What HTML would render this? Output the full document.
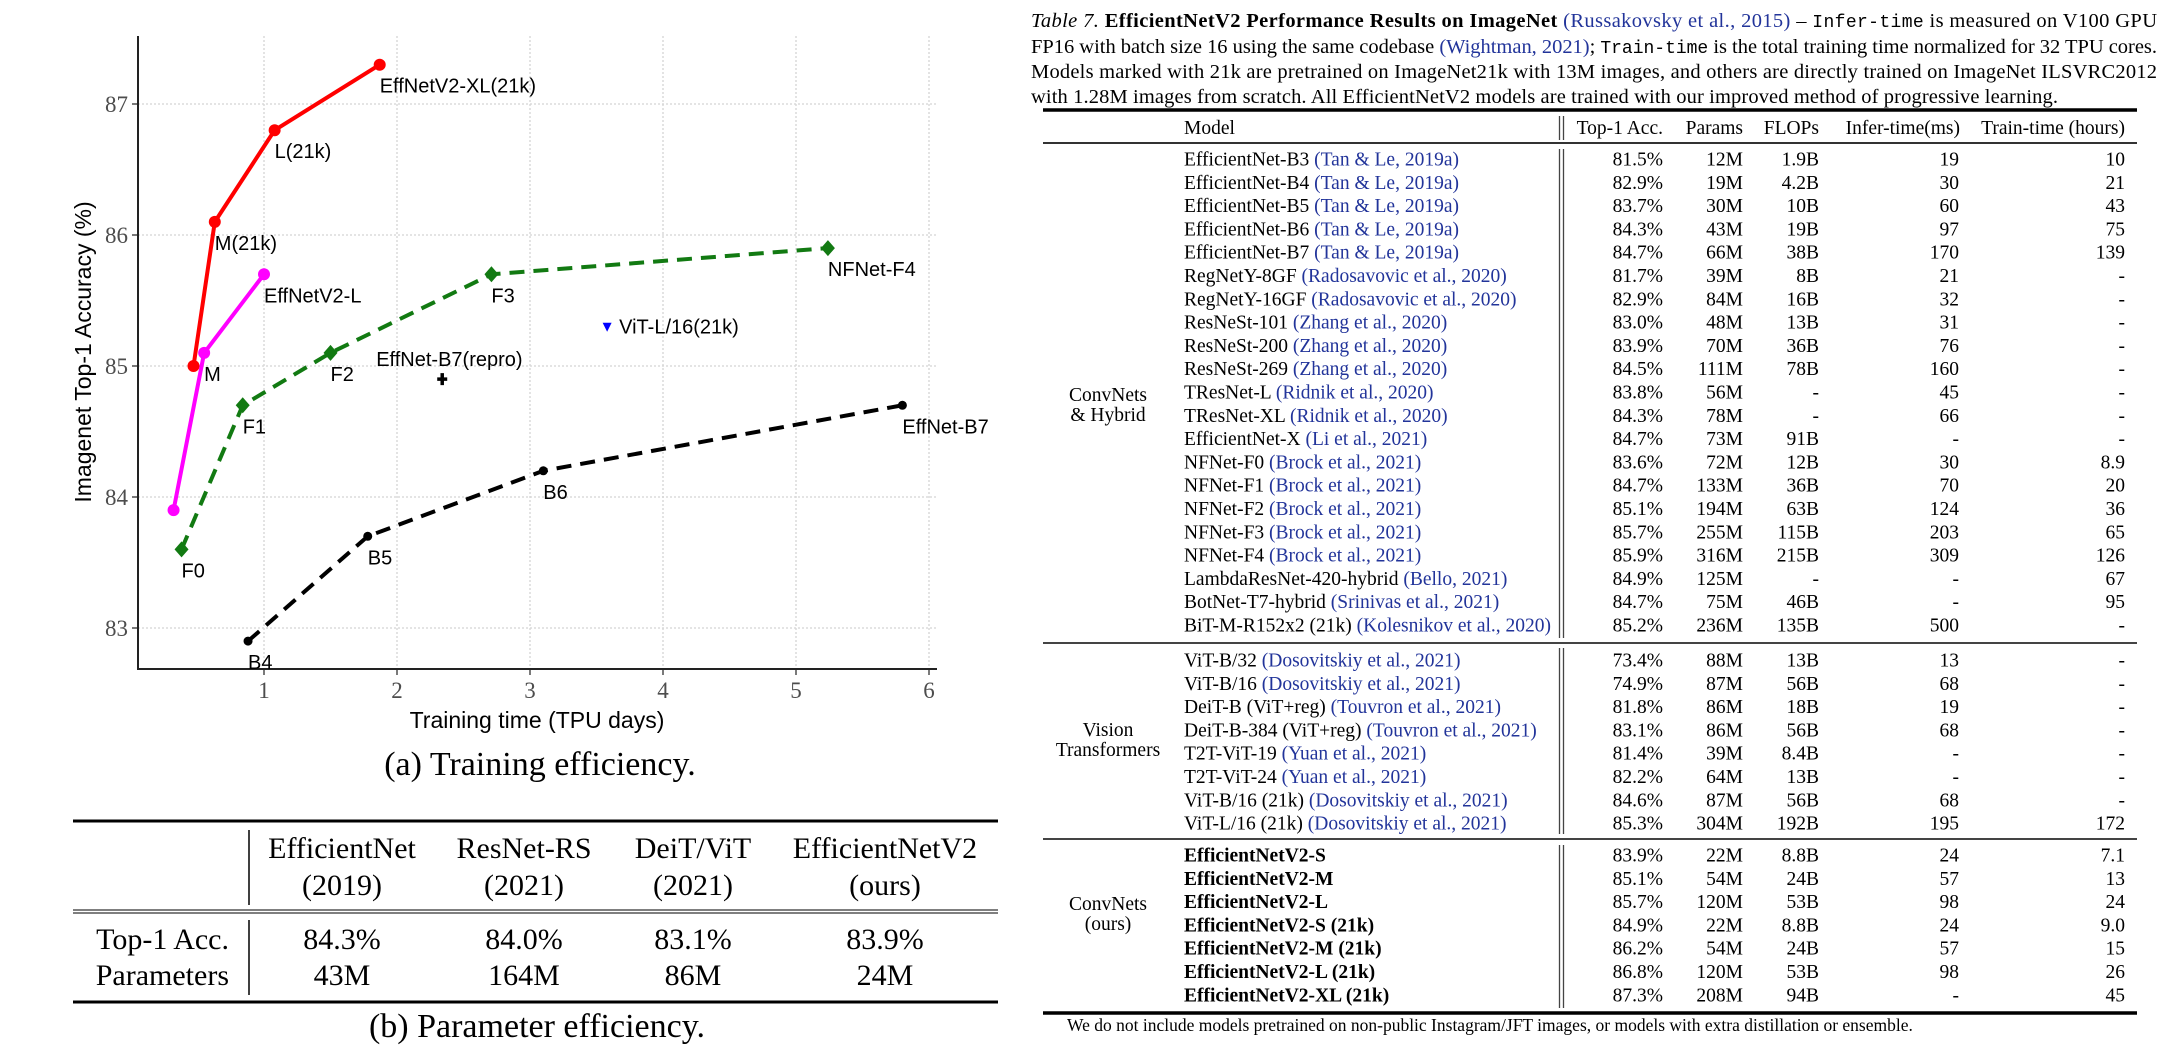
<!DOCTYPE html>
<html><head><meta charset="utf-8">
<style>
html,body{margin:0;padding:0;background:#fff;}
svg{display:block;}
.serif{font-family:"Liberation Serif",serif;}
.sans{font-family:"Liberation Sans",sans-serif;}
.mono{font-family:"Liberation Mono",monospace;}
.cite{fill:#22349a;}
</style></head>
<body>
<svg id="root" width="2174" height="1055" viewBox="0 0 2174 1055" xmlns="http://www.w3.org/2000/svg">
  <g id="chart"></g>
  <g id="ptable" class="serif">
    <line x1="73" y1="821" x2="998" y2="821" stroke="#000" stroke-width="3"/>
    <line x1="73" y1="910" x2="998" y2="910" stroke="#333" stroke-width="1.2"/>
    <line x1="73" y1="913" x2="998" y2="913" stroke="#333" stroke-width="1.2"/>
    <line x1="73" y1="1002" x2="998" y2="1002" stroke="#000" stroke-width="3"/>
    <line x1="249" y1="830" x2="249" y2="905" stroke="#000" stroke-width="1.5"/>
    <line x1="249" y1="920" x2="249" y2="995" stroke="#000" stroke-width="1.5"/>
    <g font-size="30" text-anchor="middle" fill="#000">
      <text x="342" y="858">EfficientNet</text>
      <text x="342" y="895">(2019)</text>
      <text x="524" y="858">ResNet-RS</text>
      <text x="524" y="895">(2021)</text>
      <text x="693" y="858">DeiT/ViT</text>
      <text x="693" y="895">(2021)</text>
      <text x="885" y="858">EfficientNetV2</text>
      <text x="885" y="895">(ours)</text>
      <text x="229" y="949" text-anchor="end">Top-1 Acc.</text>
      <text x="229" y="985" text-anchor="end">Parameters</text>
      <text x="342" y="949">84.3%</text>
      <text x="524" y="949">84.0%</text>
      <text x="693" y="949">83.1%</text>
      <text x="885" y="949">83.9%</text>
      <text x="342" y="985">43M</text>
      <text x="524" y="985">164M</text>
      <text x="693" y="985">86M</text>
      <text x="885" y="985">24M</text>
    </g>
    <text x="537" y="1037" font-size="34" text-anchor="middle">(b) Parameter efficiency.</text>
  </g>
  <g id="rtable" class="serif">
    <g font-size="20.5" fill="#000">
      <text x="1031" y="27" textLength="1126" lengthAdjust="spacing"><tspan font-style="italic">Table 7.</tspan><tspan font-weight="bold"> EfficientNetV2 Performance Results on ImageNet</tspan><tspan class="cite"> (Russakovsky et al., 2015)</tspan> – <tspan class="mono" font-size="18">Infer-time</tspan> is measured on V100 GPU</text>
      <text x="1031" y="53" textLength="1126" lengthAdjust="spacing">FP16 with batch size 16 using the same codebase <tspan class="cite">(Wightman, 2021)</tspan>; <tspan class="mono" font-size="18">Train-time</tspan> is the total training time normalized for 32 TPU cores.</text>
      <text x="1031" y="78" textLength="1126" lengthAdjust="spacing">Models marked with 21k are pretrained on ImageNet21k with 13M images, and others are directly trained on ImageNet ILSVRC2012</text>
      <text x="1031" y="103" textLength="1027" lengthAdjust="spacing">with 1.28M images from scratch. All EfficientNetV2 models are trained with our improved method of progressive learning.</text>
    </g>
    <line x1="1043" y1="110" x2="2137" y2="110" stroke="#000" stroke-width="3.5"/>
    <line x1="1043" y1="143" x2="2137" y2="143" stroke="#333" stroke-width="2"/>
    <line x1="1043" y1="643" x2="2137" y2="643" stroke="#444" stroke-width="2"/>
    <line x1="1043" y1="839" x2="2137" y2="839" stroke="#444" stroke-width="2"/>
    <line x1="1043" y1="1013" x2="2137" y2="1013" stroke="#000" stroke-width="3.5"/>
    <g stroke="#444" stroke-width="1.3">
      <line x1="1559.5" y1="116" x2="1559.5" y2="140"/><line x1="1563.5" y1="116" x2="1563.5" y2="140"/>
      <line x1="1559.5" y1="149" x2="1559.5" y2="638"/><line x1="1563.5" y1="149" x2="1563.5" y2="638"/>
      <line x1="1559.5" y1="648" x2="1559.5" y2="834"/><line x1="1563.5" y1="648" x2="1563.5" y2="834"/>
      <line x1="1559.5" y1="845" x2="1559.5" y2="1008"/><line x1="1563.5" y1="845" x2="1563.5" y2="1008"/>
    </g>
    <g font-size="19.5" fill="#000">
      <text x="1184" y="134">Model</text>
      <text x="1663" y="134" text-anchor="end">Top-1 Acc.</text>
      <text x="1743" y="134" text-anchor="end">Params</text>
      <text x="1819" y="134" text-anchor="end">FLOPs</text>
      <text x="1960" y="134" text-anchor="end">Infer-time(ms)</text>
      <text x="2125" y="134" text-anchor="end">Train-time (hours)</text>
    </g>
    <g font-size="19.5" text-anchor="middle" fill="#000">
      <text x="1108" y="401">ConvNets</text>
      <text x="1108" y="421">&amp; Hybrid</text>
      <text x="1108" y="736">Vision</text>
      <text x="1108" y="756">Transformers</text>
      <text x="1108" y="910">ConvNets</text>
      <text x="1108" y="930">(ours)</text>
    </g>
    <g id="rows" font-size="19.5" fill="#000"></g>
    <text x="1067" y="1031" font-size="17.5">We do not include models pretrained on non-public Instagram/JFT images, or models with extra distillation or ensemble.</text>
  </g>
</svg>
<script>
// ---------- chart data ----------
const xTicks = [1, 2, 3, 4, 5, 6];
const yTicks = [83, 84, 85, 86, 87];
const redX = [0.47, 0.63, 1.08, 1.87];
const redY = [85.0, 86.1, 86.8, 87.3];
const redLabels = ['', 'M(21k)', 'L(21k)', 'EffNetV2-XL(21k)'];
const magX = [0.32, 0.55, 1.0];
const magY = [83.9, 85.1, 85.7];
const magLabels = ['', 'M', 'EffNetV2-L'];
const greenX = [0.38, 0.84, 1.5, 2.71, 5.24];
const greenY = [83.6, 84.7, 85.1, 85.7, 85.9];
const greenLabels = ['F0', 'F1', 'F2', 'F3', 'NFNet-F4'];
const blackX = [0.88, 1.78, 3.1, 5.8];
const blackY = [82.9, 83.7, 84.2, 84.7];
const blackLabels = ['B4', 'B5', 'B6', 'EffNet-B7'];
const reproX = [2.34];
const reproY = [84.9];
const vitX = [3.58];
const vitY = [85.3];

// ---------- table data ----------
const models = ['EfficientNet-B3','EfficientNet-B4','EfficientNet-B5','EfficientNet-B6','EfficientNet-B7','RegNetY-8GF','RegNetY-16GF','ResNeSt-101','ResNeSt-200','ResNeSt-269','TResNet-L','TResNet-XL','EfficientNet-X','NFNet-F0','NFNet-F1','NFNet-F2','NFNet-F3','NFNet-F4','LambdaResNet-420-hybrid','BotNet-T7-hybrid','BiT-M-R152x2 (21k)',
 'ViT-B/32','ViT-B/16','DeiT-B (ViT+reg)','DeiT-B-384 (ViT+reg)','T2T-ViT-19','T2T-ViT-24','ViT-B/16 (21k)','ViT-L/16 (21k)',
 'EfficientNetV2-S','EfficientNetV2-M','EfficientNetV2-L','EfficientNetV2-S (21k)','EfficientNetV2-M (21k)','EfficientNetV2-L (21k)','EfficientNetV2-XL (21k)'];
const cites = ['(Tan & Le, 2019a)','(Tan & Le, 2019a)','(Tan & Le, 2019a)','(Tan & Le, 2019a)','(Tan & Le, 2019a)','(Radosavovic et al., 2020)','(Radosavovic et al., 2020)','(Zhang et al., 2020)','(Zhang et al., 2020)','(Zhang et al., 2020)','(Ridnik et al., 2020)','(Ridnik et al., 2020)','(Li et al., 2021)','(Brock et al., 2021)','(Brock et al., 2021)','(Brock et al., 2021)','(Brock et al., 2021)','(Brock et al., 2021)','(Bello, 2021)','(Srinivas et al., 2021)','(Kolesnikov et al., 2020)',
 '(Dosovitskiy et al., 2021)','(Dosovitskiy et al., 2021)','(Touvron et al., 2021)','(Touvron et al., 2021)','(Yuan et al., 2021)','(Yuan et al., 2021)','(Dosovitskiy et al., 2021)','(Dosovitskiy et al., 2021)',
 '','','','','','',''];
const top1 = ['81.5%','82.9%','83.7%','84.3%','84.7%','81.7%','82.9%','83.0%','83.9%','84.5%','83.8%','84.3%','84.7%','83.6%','84.7%','85.1%','85.7%','85.9%','84.9%','84.7%','85.2%','73.4%','74.9%','81.8%','83.1%','81.4%','82.2%','84.6%','85.3%','83.9%','85.1%','85.7%','84.9%','86.2%','86.8%','87.3%'];
const params = ['12M','19M','30M','43M','66M','39M','84M','48M','70M','111M','56M','78M','73M','72M','133M','194M','255M','316M','125M','75M','236M','88M','87M','86M','86M','39M','64M','87M','304M','22M','54M','120M','22M','54M','120M','208M'];
const flops = ['1.9B','4.2B','10B','19B','38B','8B','16B','13B','36B','78B','-','-','91B','12B','36B','63B','115B','215B','-','46B','135B','13B','56B','18B','56B','8.4B','13B','56B','192B','8.8B','24B','53B','8.8B','24B','53B','94B'];
const infer = ['19','30','60','97','170','21','32','31','76','160','45','66','-','30','70','124','203','309','-','-','500','13','68','19','68','-','-','68','195','24','57','98','24','57','98','-'];
const train = ['10','21','43','75','139','-','-','-','-','-','-','-','-','8.9','20','36','65','126','67','95','-','-','-','-','-','-','-','-','172','7.1','13','24','9.0','15','26','45'];
const sectionStarts = [159, 660, 855];
const sectionSizes = [21, 8, 7];

const NS = 'http://www.w3.org/2000/svg';
function mk(tag, attrs, parent) {
  const e = document.createElementNS(NS, tag);
  for (const k in attrs) e.setAttribute(k, attrs[k]);
  parent.appendChild(e);
  return e;
}
const X = v => 131 + v * 133;
const Y = v => 497 - (v - 84) * 131;

const chart = document.getElementById('chart');
const PL = 138, PR = 937, PT = 36, PB = 669;

// grid
xTicks.forEach(t => {
  const g = mk('line', {x1: X(t), y1: PT, x2: X(t), y2: PB, stroke: '#d4d4d4', 'stroke-width': 1.3, 'stroke-dasharray': '2,2'}, chart);
  
  
  const tk = mk('line', {x1: X(t), y1: PB, x2: X(t), y2: PB + 6, stroke: '#333', 'stroke-width': 1.3}, chart);
  
  
  const lb = mk('text', {x: X(t), y: PB + 29, 'text-anchor': 'middle', 'font-size': 23, fill: '#4d4d4d', 'class': 'serif'}, chart);
  lb.textContent = t;
  
  
});
yTicks.forEach(t => {
  const g = mk('line', {x1: PL, y1: Y(t), x2: PR, y2: Y(t), stroke: '#d4d4d4', 'stroke-width': 1.3, 'stroke-dasharray': '2,2'}, chart);
  
  
  const tk = mk('line', {x1: PL - 6, y1: Y(t), x2: PL, y2: Y(t), stroke: '#333', 'stroke-width': 1.3}, chart);
  
  
  const lb = mk('text', {x: 128, y: Y(t) + 8, 'text-anchor': 'end', 'font-size': 23, fill: '#4d4d4d', 'class': 'serif'}, chart);
  lb.textContent = t;
  
  
});
const ya = mk('line', {x1: PL, y1: PT, x2: PL, y2: PB + 1, stroke: '#222', 'stroke-width': 2}, chart);


const xa = mk('line', {x1: PL - 1, y1: PB, x2: PR, y2: PB, stroke: '#222', 'stroke-width': 2}, chart);



const xt = mk('text', {x: 537, y: 728, 'text-anchor': 'middle', 'font-size': 23, 'class': 'sans'}, chart);
xt.textContent = 'Training time (TPU days)';


const yt = mk('text', {x: 0, y: 0, 'text-anchor': 'middle', 'font-size': 23, 'class': 'sans', transform: 'translate(91,352) rotate(-90)'}, chart);
yt.textContent = 'Imagenet Top-1 Accuracy (%)';


const cap = mk('text', {x: 540, y: 775, 'text-anchor': 'middle', 'font-size': 34, 'class': 'serif'}, chart);
cap.textContent = '(a) Training efficiency.';



function series(xs, ys, labels, color, dashed, marker, name) {
  const g = mk('g', {}, chart);
  
  
  const pts = xs.map((v, i) => X(v) + ',' + Y(ys[i])).join(' ');
  const attrs = {points: pts, fill: 'none', stroke: color, 'stroke-width': dashed ? 4 : 4, 'stroke-linejoin': 'round'};
  if (dashed) attrs['stroke-dasharray'] = '15,9';
  const pl = mk('polyline', attrs, g);
  
  
  xs.forEach((v, i) => {
    const cx = X(v), cy = Y(ys[i]);
    let m;
    if (marker === 'diamond') m = mk('polygon', {points: `${cx},${cy-8} ${cx+7},${cy} ${cx},${cy+8} ${cx-7},${cy}`, fill: color}, g);
    else m = mk('circle', {cx: cx, cy: cy, r: marker === 'small' ? 4.5 : 6, fill: color}, g);
    
    
    if (labels[i]) {
      const t = mk('text', {x: cx, y: cy + 28, 'font-size': 20, 'class': 'sans'}, g);
      t.textContent = labels[i];
      
      
    }
  });
}
series(blackX, blackY, blackLabels, '#000', true, 'small', 'efficientnet-series');
series(greenX, greenY, greenLabels, '#127a12', true, 'diamond', 'nfnet-series');
series(magX, magY, magLabels, '#ff00ff', false, 'circle', 'effnetv2-series');
series(redX, redY, redLabels, '#ff0000', false, 'circle', 'effnetv2-21k-series');

reproX.forEach((v, i) => {
  const cx = X(v), cy = Y(reproY[i]);
  const p = mk('path', {d: `M${cx-5},${cy}H${cx+5}M${cx},${cy-6}V${cy+6}`, stroke: '#000', 'stroke-width': 3.5}, chart);
  
  
  const t = mk('text', {x: cx - 66, y: cy - 13, 'font-size': 20, 'class': 'sans'}, chart);
  t.textContent = 'EffNet-B7(repro)';
  
  
});
vitX.forEach((v, i) => {
  const cx = X(v), cy = Y(vitY[i]);
  const p = mk('polygon', {points: `${cx-4.5},${cy-4} ${cx+4.5},${cy-4} ${cx},${cy+5}`, fill: '#0000ff'}, chart);
  
  
  const t = mk('text', {x: cx + 12, y: cy + 7, 'font-size': 20, 'class': 'sans'}, chart);
  t.textContent = 'ViT-L/16(21k)';
  
  
});

// ---------- table rows ----------
const rows = document.getElementById('rows');
let idx = 0;
sectionStarts.forEach((start, s) => {
  for (let r = 0; r < sectionSizes[s]; r++, idx++) {
    const y = start + r * 23.3 + 6.5;
    const g = mk('g', {}, rows);
    
    
    const t = mk('text', {x: 1184, y: y}, g);
    if (s === 2) t.setAttribute('font-weight', 'bold');
    t.textContent = models[idx];
    
    
    if (cites[idx]) {
      const c = mk('tspan', {'class': 'cite'}, t);
      c.textContent = ' ' + cites[idx];
    }
    const cols = [[top1, 1663], [params, 1743], [flops, 1819], [infer, 1959], [train, 2125]];
    cols.forEach(([arr, x]) => {
      const c = mk('text', {x: x, y: y, 'text-anchor': 'end'}, g);
      c.textContent = arr[idx];
      
      
    });
  }
});
</script>
</body></html>
